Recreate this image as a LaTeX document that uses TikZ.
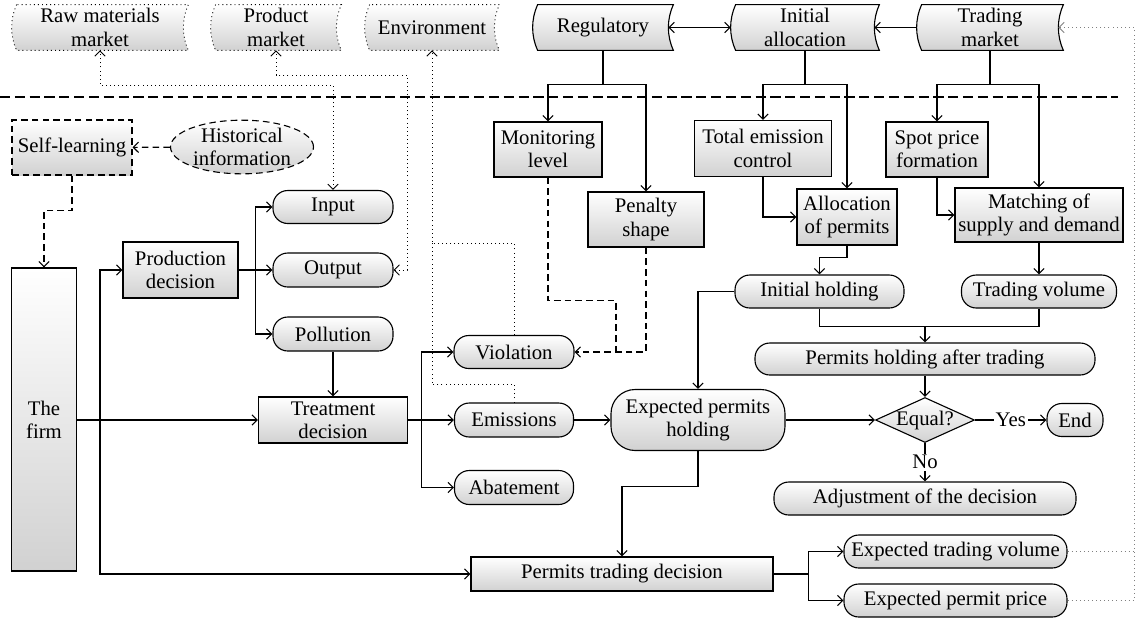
\documentclass[tikz,border=0pt]{standalone}
\usepackage{fontspec}
\setmainfont{Liberation Serif}
\usetikzlibrary{arrows.meta, shapes.geometric, backgrounds}
\newcommand{\unitpx}{0.54pt}
% curved side border for the market / regulator boxes
\newcommand{\tapeframe}[2]{%
  \begin{scope}[on background layer]
    \path[#2] ([xshift=2.7pt]#1.north west) .. controls +(-3.6pt,-8.1pt) and +(-3.6pt,8.1pt) .. ([xshift=2.7pt]#1.south west)
      -- (#1.south east) .. controls +(-3.6pt,8.1pt) and +(-3.6pt,-8.1pt) .. (#1.north east) -- cycle;
  \end{scope}}
\tikzset{
  box/.style={draw, rectangle, line width=0.6pt, top color=white, bottom color=black!18, align=center, inner sep=1pt},
  pill/.style={box, rounded corners=8pt},
  tapebox/.style={rectangle, align=center, inner sep=1pt},
  tapeline/.style={draw, line width=0.6pt, top color=white, bottom color=black!18},
  wh/.style 2 args={minimum width=#1*\unitpx, minimum height=#2*\unitpx},
  link/.style={line width=0.6pt},
  flow/.style={->, line width=0.6pt},
  long dash/.style={dash pattern=on 3.6pt off 2.2pt},
  dashflow/.style={flow, long dash},
  fine dots/.style={line width=0.5pt, dash pattern=on 0.5pt off 1.7pt},
  dotflow/.style={flow, fine dots}
}
\begin{document}
\begin{tikzpicture}[x=0.54pt, y=-0.54pt, >={Straight Barb[length=2.8pt,width=5.6pt]},
  every node/.style={font=\fontsize{11.2}{12.6}\selectfont}]
\useasboundingbox (0,0) rectangle (1137,620);

% outside the firm
\node[tapebox, wh={176}{45}] (raw) at (100,27.5) {Raw materials\\market};
\node[tapebox, wh={130}{45}] (product) at (276,27.5) {Product\\market};
\node[tapebox, wh={134}{45}] (env) at (432,27.5) {Environment};
\node[tapebox, wh={140}{45}] (reg) at (603,27.5) {Regulatory};
\node[tapebox, wh={148}{45}] (init) at (805,27.5) {Initial\\allocation};
\node[tapebox, wh={146}{45}] (trading) at (990,27.5) {Trading\\market};
\tapeframe{raw}{tapeline, fine dots}
\tapeframe{product}{tapeline, fine dots}
\tapeframe{env}{tapeline, fine dots}
\tapeframe{reg}{tapeline}
\tapeframe{init}{tapeline}
\tapeframe{trading}{tapeline}

\draw[line width=1pt, dash pattern=on 5.5pt off 2.5pt] (0,97) coordinate (sepL) -- (1118,97) coordinate (sepR);

% the firm
\node[box, long dash, wh={120}{55}] (self) at (72,147.5) {Self-learning};
\node[box, ellipse, long dash, inner sep=0pt, wh={143}{50}] (hist) at (242,147) {Historical\\information};
\node[box, wh={65}{303}] (firm) at (44,419.5) {The\\firm};
\node[box, wh={115}{56}] (prod) at (180.5,270) {Production\\decision};
\node[pill, wh={120}{33}] (input) at (333,207) {Input};
\node[pill, wh={120}{34}] (output) at (333,270) {Output};
\node[pill, wh={120}{34}] (poll) at (333,334) {Pollution};
\node[box, wh={149}{46}] (treat) at (333,420) {Treatment\\decision};
\node[pill, wh={120}{33}] (viol) at (514,352) {Violation};
\node[pill, wh={119}{34}] (emis) at (514,420) {Emissions};
\node[pill, wh={119}{34}] (abat) at (514,487.5) {Abatement};

% regulator and market side
\node[box, wh={108}{55}] (mon) at (548,149.5) {Monitoring\\level};
\node[box, wh={116}{55}] (pen) at (646,219.5) {Penalty\\shape};
\node[box, wh={137}{56}] (tec) at (763,148.5) {Total emission\\control};
\node[box, wh={100}{56}] (alloc) at (847,217) {Allocation\\of permits};
\node[box, wh={102}{55}] (spot) at (937,149.5) {Spot price\\formation};
\node[box, wh={168}{54}] (match) at (1039,215) {Matching of\\supply and demand};
\node[pill, wh={169}{33}] (inithold) at (819.5,291.5) {Initial holding};
\node[pill, wh={155}{33}] (tradevol) at (1039,291.5) {Trading volume};
\node[pill, wh={340}{32}] (after) at (925,359) {Permits holding after trading};
\node[box, rounded corners=13pt, wh={174}{61}] (exphold) at (698,420) {Expected permits\\holding};
\node[box, diamond, aspect=2.2, inner sep=0pt] (equal) at (925,420) {Equal?};
\node[pill, wh={56}{33}] (end) at (1075,420) {End};
\node[pill, wh={302}{33}] (adjust) at (925,498.5) {Adjustment of the decision};
\node[box, wh={302}{34}] (trade) at (622,574) {Permits trading decision};
\node[pill, wh={223}{33}] (expvol) at (955.5,551.5) {Expected trading volume};
\node[pill, wh={223}{33}] (expprice) at (955.5,600.5) {Expected permit price};

% markets and environment
\draw[dotflow, <->] (input.north) -- (input.north |- 0,85) -| (raw.south);
\draw[dotflow, <->] (output.east) -| (407,75) -| (product.south);
\coordinate (envjoin) at (432,243);
\draw[dotflow] (viol.north) |- (envjoin) -- (env.south);
\draw[fine dots] (emis.north) -- ++(0,-18) -| (envjoin);

% learning
\draw[dashflow] (hist) -- (self);
\draw[dashflow] (self.south) -- ++(0,35) -| (firm.north);

% decisions of the firm
\coordinate (firmsplit) at (100,420);
\draw[flow] (firm.east |- treat.west) -- (treat.west);
\draw[flow] (firmsplit) |- (prod.west);
\draw[flow] (firmsplit) |- (trade.west);
\path (prod.east) ++(17,0) coordinate (prodsplit);
\draw[flow] (prod.east) -- (output.west);
\draw[flow] (prodsplit) |- (input.west);
\draw[flow] (prodsplit) |- (poll.west);
\draw[flow] (poll.south) -- (treat.north);
\path (treat.east) ++(13,0) coordinate (treatsplit);
\draw[flow] (treat.east) -- (emis.west);
\draw[flow] (treatsplit) |- (viol.west);
\draw[flow] (treatsplit) |- (abat.west);

% regulator, allocation, trading
\draw[flow, <->] ([xshift=-2.7pt]reg.east) -- (init.west);
\draw[flow] (trading.west) -- ([xshift=-2.7pt]init.east);
\draw[link] (reg.south) -- ++(0,34) coordinate (regsplit);
\draw[flow] (regsplit) -| (mon.north);
\draw[flow] (regsplit) -| (pen.north);
\draw[link] (init.south) -- ++(0,34) coordinate (initsplit);
\draw[flow] (initsplit) -| (tec.north);
\draw[flow] (initsplit) -| (alloc.north);
\draw[link] (trading.south) -- ++(0,34) coordinate (tradingsplit);
\draw[flow] (tradingsplit) -| (spot.north);
\draw[flow] (tradingsplit) -| (match.north);
\coordinate (penjoin) at (616,352);
\draw[long dash, link] (mon.south) -- ++(0,123) -| (penjoin);
\draw[dashflow] (pen.south) |- (viol.east);
\draw[flow] (tec.south) |- (alloc.west);
\draw[flow] (spot.south) |- (match.west);
\draw[flow] (alloc.south) -- ++(0,12) -| (inithold.north);
\draw[flow] (match.south) -- (tradevol.north);
\path (inithold.south) ++(0,18) coordinate (holdjoin);
\draw[link] (inithold.south) -- (holdjoin) -| (tradevol.south);
\draw[flow] (holdjoin -| after.north) -- (after.north);
\draw[flow] (inithold.west) -| (exphold.north);
\draw[flow] (after.south) -- (equal.north);
\draw[flow] (emis.east) -- (emis.east -| exphold.west);
\draw[flow] (exphold.east) -- (equal.west);
\draw[flow] (equal.east) -- node[fill=white, inner sep=1pt] {Yes} (end.west);
\draw[flow] (equal.south) -- node[fill=white, inner sep=1pt] {No} (adjust.north);
\draw[flow] (exphold.south) -- ++(0,35) -| (trade.north);
\path (trade.east) ++(35,0) coordinate (tradesplit);
\draw[link] (trade.east) -- (tradesplit);
\draw[flow] (tradesplit) |- (expvol.west);
\draw[flow] (tradesplit) |- (expprice.west);

% feedback to the trading market
\coordinate (fbcorner) at (1134,27.5);
\draw[dotflow, gray] (expprice.east) -| (fbcorner) -- ([xshift=-2.7pt]trading.east);
\draw[fine dots, gray] (expvol.east) -- (expvol.east -| fbcorner);
\end{tikzpicture}
\end{document}
